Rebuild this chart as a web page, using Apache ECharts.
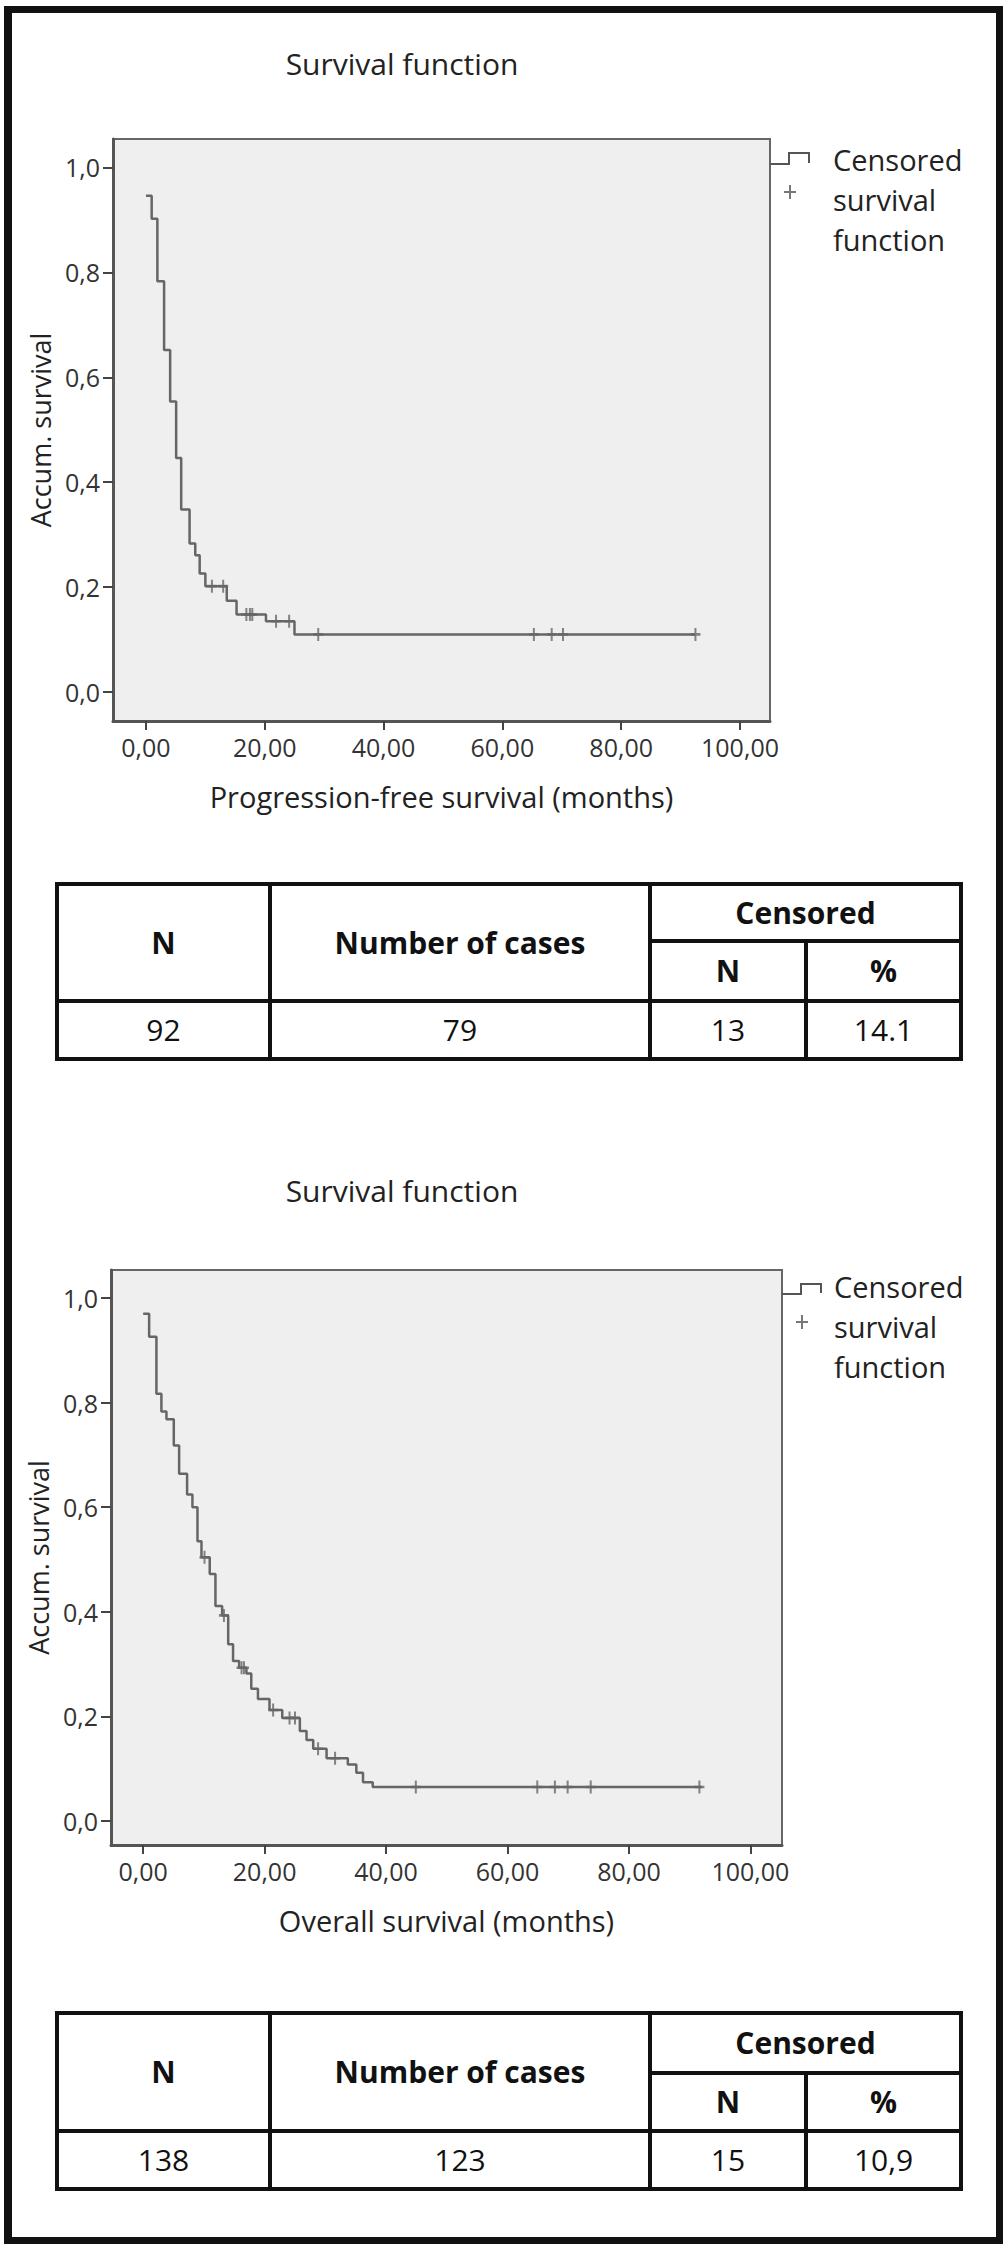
<!DOCTYPE html>
<html>
<head>
<meta charset="utf-8">
<script src="https://cdn.jsdelivr.net/npm/echarts@6/dist/echarts.min.js"></script>
<style>
  html, body { margin: 0; padding: 0; background: #fff; }
  body { width: 1008px; height: 2248px; position: relative; overflow: hidden; font-family: "Open Sans", "Noto Sans", sans-serif; }
  #frame { position: absolute; left: 4px; top: 6px; width: 999px; height: 2238px; box-sizing: border-box; border: 7px solid #111; border-left-width: 8px; }
  #chart { position: absolute; left: 0; top: 0; width: 1008px; height: 2248px; }
  table.stat { position: absolute; left: 55px; width: 904px; border-collapse: collapse; table-layout: fixed; color: #111; }
  table.stat td { border: 4px solid #111; text-align: center; vertical-align: middle; padding: 0; font-size: 30px; line-height: 1; }
  table.stat td.h { font-weight: bold; }
</style>
</head>
<body>
<div id="frame"></div>
<div id="chart"></div>
<table class="stat" id="t1" style="top:882px;"></table>
<table class="stat" id="t2" style="top:2011px;"></table>
<script>
// ---------- data ----------
// Progression-free survival: Kaplan-Meier step times (months) and survival levels
const pfsTimes = [0, 0.96, 1.92, 3.05, 4.07, 5.08, 5.93, 7.34, 8.3, 9.04, 10.0, 13.6, 15.25, 20.2, 25.0, 92.5];
const pfsSurv  = [0.946, 0.902, 0.783, 0.652, 0.554, 0.446, 0.348, 0.283, 0.261, 0.226, 0.202, 0.174, 0.148, 0.135, 0.11, 0.11];
const pfsCensor = [11.1, 13.0, 16.9, 17.5, 17.9, 21.9, 24.1, 29.0, 65.3, 68.3, 70.2, 92.5];

// Overall survival
const osTimes = [0, 0.98, 2.18, 3.0, 3.83, 5.04, 5.92, 7.23, 8.11, 8.94, 9.6, 10.96, 11.9, 13.0, 14.0, 14.8, 15.8, 17.0, 17.8, 18.9, 20.8, 22.9, 25.8, 26.9, 28.0, 30.2, 33.7, 35.1, 36.2, 37.8, 92.0];
const osSurv  = [0.970, 0.926, 0.817, 0.783, 0.768, 0.718, 0.664, 0.624, 0.600, 0.535, 0.504, 0.472, 0.411, 0.393, 0.338, 0.306, 0.293, 0.282, 0.253, 0.233, 0.212, 0.197, 0.172, 0.155, 0.138, 0.120, 0.108, 0.092, 0.074, 0.065, 0.065];
const osCensor = [10.1, 13.3, 16.2, 16.6, 21.4, 24.1, 25.0, 28.8, 31.6, 44.9, 64.9, 67.8, 69.9, 73.7, 91.6];

const xTicks = [0, 20, 40, 60, 80, 100];
const yTicks = [0, 0.2, 0.4, 0.6, 0.8, 1.0];

const chartTitle = 'Survival function';
const yAxisTitle = 'Accum. survival';
const pfsXTitle = 'Progression-free survival (months)';
const osXTitle = 'Overall survival (months)';
const legendLines = ['Censored', 'survival', 'function'];

const tableHead = ['N', 'Number of cases', 'Censored', 'N', '%'];
const pfsTable = ['92', '79', '13', '14.1'];
const osTable = ['138', '123', '15', '10,9'];

// ---------- tables ----------
function buildTable(id, vals, rowH) {
  const t = document.getElementById(id);
  t.innerHTML =
    '<colgroup><col style="width:213px"><col style="width:380px"><col style="width:156px"><col style="width:155px"></colgroup>' +
    '<tr style="height:' + rowH[0] + 'px"><td class="h" rowspan="2">' + tableHead[0] + '</td><td class="h" rowspan="2">' + tableHead[1] + '</td><td class="h" colspan="2">' + tableHead[2] + '</td></tr>' +
    '<tr style="height:' + rowH[1] + 'px"><td class="h">' + tableHead[3] + '</td><td class="h">' + tableHead[4] + '</td></tr>' +
    '<tr style="height:' + rowH[2] + 'px">' + vals.map(v => '<td>' + v + '</td>').join('') + '</tr>';
}
buildTable('t1', pfsTable, [57, 60, 58]);
buildTable('t2', osTable, [60, 58, 58]);

// ---------- chart ----------
const FONT = '"Open Sans", "Noto Sans", sans-serif';
const LINE = '#666';
function levelAt(times, surv, t) {
  let v = surv[0];
  for (let i = 0; i < times.length; i++) { if (times[i] <= t) v = surv[i]; }
  return v;
}
const plusPath = 'path://M4,0H6V4H10V6H6V10H4V6H0V4H4Z';

function xAxisCfg(idx, min, max, name) {
  return {
    gridIndex: idx, type: 'value', min: min, max: max,
    axisLine: { show: true, onZero: false, lineStyle: { color: '#555', width: 3 } },
    axisTick: { show: true, customValues: xTicks, length: 9, lineStyle: { color: '#444', width: 2 } },
    axisLabel: { customValues: xTicks, formatter: v => v.toFixed(2).replace('.', ','), fontSize: 25, color: '#333', margin: 13, fontFamily: FONT },
    splitLine: { show: false },
    name: name, nameLocation: 'middle', nameGap: 61,
    nameTextStyle: { fontSize: 29, color: '#222', fontFamily: FONT }
  };
}
function yAxisCfg(idx, min, max, gap) {
  return {
    gridIndex: idx, type: 'value', min: min, max: max,
    axisLine: { show: true, onZero: false, lineStyle: { color: '#555', width: 3 } },
    axisTick: { show: true, customValues: yTicks, length: 10, lineStyle: { color: '#444', width: 2 } },
    axisLabel: { customValues: yTicks, formatter: v => v.toFixed(1).replace('.', ','), fontSize: 25, color: '#333', margin: 13, fontFamily: FONT },
    splitLine: { show: false },
    name: yAxisTitle, nameLocation: 'middle', nameGap: gap,
    nameTextStyle: { fontSize: 27, color: '#222', fontFamily: FONT }
  };
}
function kmSeries(idx, times, surv, censor) {
  return [
    {
      type: 'line', xAxisIndex: idx, yAxisIndex: idx, step: 'end', symbol: 'none', silent: true,
      data: times.map((t, k) => [t, surv[k]]),
      lineStyle: { color: LINE, width: 2.5 }
    },
    {
      type: 'scatter', xAxisIndex: idx, yAxisIndex: idx, silent: true,
      symbol: plusPath, symbolSize: [10, 13],
      data: censor.map(t => [t, levelAt(times, surv, t)]),
      itemStyle: { color: LINE }
    }
  ];
}
function legendGraphics(bx, lowY, highY, plusX, plusY, textX, textY0) {
  const els = [
    { type: 'polyline', shape: { points: [[bx, lowY], [bx + 19, lowY], [bx + 19, highY], [bx + 39, highY], [bx + 39, lowY - 1]] },
      style: { stroke: '#555', lineWidth: 2, fill: null } },
    { type: 'line', shape: { x1: plusX - 6, y1: plusY, x2: plusX + 6, y2: plusY }, style: { stroke: '#777', lineWidth: 2 } },
    { type: 'line', shape: { x1: plusX, y1: plusY - 7, x2: plusX, y2: plusY + 7 }, style: { stroke: '#777', lineWidth: 2 } }
  ];
  legendLines.forEach((s, i) => {
    els.push({ type: 'text', x: textX, y: textY0 + i * 40,
      style: { text: s, align: 'left', verticalAlign: 'middle', fontSize: 29, fontFamily: FONT, fill: '#222' } });
  });
  return els;
}

const chart = echarts.init(document.getElementById('chart'), null, { renderer: 'svg', width: 1008, height: 2248 });
chart.setOption({
  animation: false,
  grid: [
    { left: 113, top: 139, width: 657, height: 582, show: true, backgroundColor: '#efefef', borderColor: '#666', borderWidth: 2 },
    { left: 111, top: 1270, width: 671, height: 575, show: true, backgroundColor: '#efefef', borderColor: '#666', borderWidth: 2 }
  ],
  xAxis: [xAxisCfg(0, -5.55, 105.05, pfsXTitle), xAxisCfg(1, -5.3, 105.2, osXTitle)],
  yAxis: [yAxisCfg(0, -0.055, 1.054, 58), yAxisCfg(1, -0.046, 1.0535, 56)],
  series: [].concat(kmSeries(0, pfsTimes, pfsSurv, pfsCensor), kmSeries(1, osTimes, osSurv, osCensor)),
  graphic: [
    { type: 'text', x: 402, y: 63, style: { text: chartTitle, align: 'center', verticalAlign: 'middle', fontSize: 30, fontFamily: FONT, fill: '#222' } },
    { type: 'text', x: 402, y: 1190, style: { text: chartTitle, align: 'center', verticalAlign: 'middle', fontSize: 30, fontFamily: FONT, fill: '#222' } }
  ].concat(
    legendGraphics(770, 164, 153, 790, 192, 833, 159),
    legendGraphics(782, 1294, 1284, 802, 1322, 834, 1286)
  )
});
</script>
</body>
</html>
